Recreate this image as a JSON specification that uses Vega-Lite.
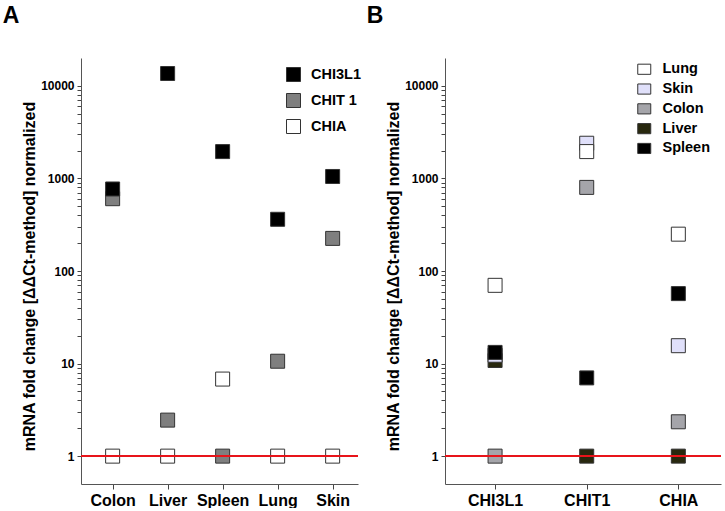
{
  "$schema": "https://vega.github.io/schema/vega-lite/v6.json",
  "padding": {"left": 2, "top": 5, "right": 0, "bottom": 0},
  "background": "white",
  "config": {
    "view": {"stroke": null},
    "font": "Liberation Sans",
    "axis": {"labelFont": "Liberation Sans", "labelFontWeight": "bold", "labelColor": "#000", "domainColor": "#555", "tickColor": "#444", "grid": false, "titleFont": "Liberation Sans", "titleFontWeight": "bold", "titleColor": "#000"},
    "title": {"font": "Liberation Sans", "fontSize": 23, "fontWeight": "bold", "anchor": "start", "frame": "bounds", "color": "#000"}
  },
  "datasets": {
    "panelA": [
      {"tissue": "Colon", "gene": "CHIA", "fold": 1},
      {"tissue": "Colon", "gene": "CHIT 1", "fold": 604},
      {"tissue": "Colon", "gene": "CHI3L1", "fold": 769},
      {"tissue": "Liver", "gene": "CHIA", "fold": 1},
      {"tissue": "Liver", "gene": "CHIT 1", "fold": 2.45},
      {"tissue": "Liver", "gene": "CHI3L1", "fold": 13600},
      {"tissue": "Spleen", "gene": "CHIA", "fold": 6.8},
      {"tissue": "Spleen", "gene": "CHIT 1", "fold": 1},
      {"tissue": "Spleen", "gene": "CHI3L1", "fold": 1950},
      {"tissue": "Lung", "gene": "CHIA", "fold": 1},
      {"tissue": "Lung", "gene": "CHIT 1", "fold": 10.6},
      {"tissue": "Lung", "gene": "CHI3L1", "fold": 362},
      {"tissue": "Skin", "gene": "CHIA", "fold": 1},
      {"tissue": "Skin", "gene": "CHIT 1", "fold": 225},
      {"tissue": "Skin", "gene": "CHI3L1", "fold": 1050}
    ],
    "panelB": [
      {"gene": "CHI3L1", "tissue": "Colon", "fold": 1},
      {"gene": "CHI3L1", "tissue": "Liver", "fold": 10.8},
      {"gene": "CHI3L1", "tissue": "Skin", "fold": 12.3},
      {"gene": "CHI3L1", "tissue": "Lung", "fold": 70},
      {"gene": "CHI3L1", "tissue": "Spleen", "fold": 13.2},
      {"gene": "CHIT1", "tissue": "Colon", "fold": 800},
      {"gene": "CHIT1", "tissue": "Liver", "fold": 1},
      {"gene": "CHIT1", "tissue": "Skin", "fold": 2400},
      {"gene": "CHIT1", "tissue": "Lung", "fold": 1950},
      {"gene": "CHIT1", "tissue": "Spleen", "fold": 7.0},
      {"gene": "CHIA", "tissue": "Colon", "fold": 2.35},
      {"gene": "CHIA", "tissue": "Liver", "fold": 1},
      {"gene": "CHIA", "tissue": "Skin", "fold": 15.6},
      {"gene": "CHIA", "tissue": "Lung", "fold": 250},
      {"gene": "CHIA", "tissue": "Spleen", "fold": 57}
    ]
  },
  "spacing": 5,
  "resolve": {"scale": {"color": "independent", "x": "independent", "y": "independent"}},
  "hconcat": [
    {
      "title": {"text": "A", "offset": 30, "dx": -19},
      "width": 277,
      "height": 426,
      "data": {"name": "panelA"},
      "layer": [
        {
          "mark": {"type": "point", "shape": "square", "size": 196, "filled": true, "opacity": 1, "stroke": "#333", "strokeWidth": 1},
          "encoding": {
            "x": {"field": "tissue", "type": "nominal", "sort": null,
              "scale": {"type": "point", "domain": ["Colon", "Liver", "Spleen", "Lung", "Skin"], "padding": 0.518, "align": 0.555},
              "axis": {"title": null, "labelAngle": 0, "labelFontSize": 16, "tickSize": 5, "labelPadding": 3}},
            "y": {"field": "fold", "type": "quantitative",
              "scale": {"type": "log", "domain": [0.5, 20000], "nice": false},
              "axis": {"title": "mRNA fold change [ΔΔCt-method] normalized", "titleFontSize": 16, "titlePadding": 3, "titleY": 218,
                "values": [1,2,3,4,5,6,7,8,9,10,20,30,40,50,60,70,80,90,100,200,300,400,500,600,700,800,900,1000,2000,3000,4000,5000,6000,7000,8000,9000,10000],
                "format": "d",
                "labelExpr": "indexof([1,10,100,1000,10000], datum.value) >= 0 ? datum.label : ''",
                "tickSize": 4,
                "labelFontSize": 12, "labelPadding": 3, "labelOverlap": false}},
            "color": {"field": "gene", "type": "nominal",
              "scale": {"domain": ["CHI3L1", "CHIT 1", "CHIA"], "range": ["#000000", "#7f7f7f", "#ffffff"]},
              "legend": {"title": null, "orient": "none", "legendX": 205, "legendY": 9, "symbolType": "square", "symbolSize": 196,
                "symbolStrokeColor": "#333", "symbolStrokeWidth": 1, "symbolOpacity": 1, "labelFontSize": 14.5, "labelFontWeight": "bold",
                "labelFont": "Liberation Sans", "labelOffset": 10, "rowPadding": 7, "padding": 0, "labelColor": "#000"}}
          }
        },
        {"mark": {"type": "rule", "color": "#e8141a", "strokeWidth": 1.5}, "encoding": {"y": {"datum": 1}}}
      ]
    },
    {
      "title": {"text": "B", "offset": 30, "dx": -19},
      "width": 276,
      "height": 426,
      "data": {"name": "panelB"},
      "layer": [
        {
          "mark": {"type": "point", "shape": "square", "size": 196, "filled": true, "opacity": 1, "stroke": "#333", "strokeWidth": 1},
          "encoding": {
            "x": {"field": "gene", "type": "nominal", "sort": null,
              "scale": {"type": "point", "domain": ["CHI3L1", "CHIT1", "CHIA"], "padding": 0.506, "align": 0.54},
              "axis": {"title": null, "labelAngle": 0, "labelFontSize": 16, "tickSize": 5, "labelPadding": 3}},
            "y": {"field": "fold", "type": "quantitative",
              "scale": {"type": "log", "domain": [0.5, 20000], "nice": false},
              "axis": {"title": "mRNA fold change [ΔΔCt-method] normalized", "titleFontSize": 16, "titlePadding": 3, "titleY": 218,
                "values": [1,2,3,4,5,6,7,8,9,10,20,30,40,50,60,70,80,90,100,200,300,400,500,600,700,800,900,1000,2000,3000,4000,5000,6000,7000,8000,9000,10000],
                "format": "d",
                "labelExpr": "indexof([1,10,100,1000,10000], datum.value) >= 0 ? datum.label : ''",
                "tickSize": 4,
                "labelFontSize": 12, "labelPadding": 3, "labelOverlap": false}},
            "color": {"field": "tissue", "type": "nominal",
              "scale": {"domain": ["Lung", "Skin", "Colon", "Liver", "Spleen"], "range": ["#ffffff", "#e0e0fa", "#a5a5aa", "#28280e", "#000000"]},
              "legend": {"title": null, "orient": "none", "legendX": 192, "legendY": 4, "symbolType": "M-1,-0.78H1V0.78H-1Z", "symbolSize": 169,
                "symbolStrokeColor": "#333", "symbolStrokeWidth": 1, "symbolOpacity": 1, "labelFontSize": 14.5, "labelFontWeight": "bold",
                "labelFont": "Liberation Sans", "labelOffset": 11, "rowPadding": 3.8, "padding": 0, "labelColor": "#000"}}
          }
        },
        {"mark": {"type": "rule", "color": "#e8141a", "strokeWidth": 1.5}, "encoding": {"y": {"datum": 1}}}
      ]
    }
  ]
}
